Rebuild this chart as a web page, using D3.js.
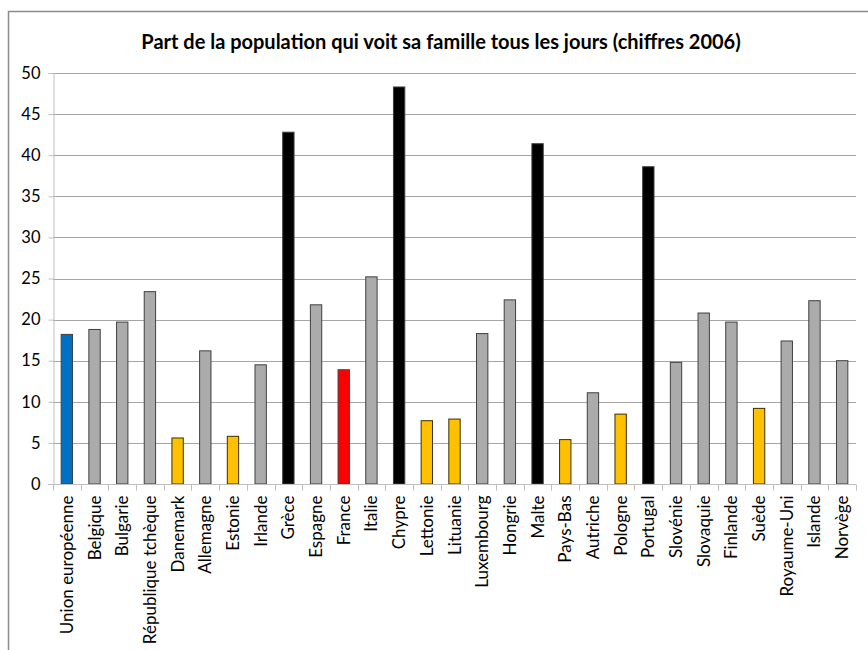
<!DOCTYPE html>
<html>
<head>
<meta charset="utf-8">
<script src="https://cdn.jsdelivr.net/npm/d3@7"></script>
<style>
  html, body { margin: 0; padding: 0; background: #fff; }
  svg { display: block; }
  text { font-family: Lato, "Open Sans", sans-serif; fill: #000; }
</style>
</head>
<body>
<svg id="chart" width="868" height="650"></svg>
<script>
// Part de la population qui voit sa famille tous les jours, 2006 (%)
const countries = [
  "Union européenne", "Belgique", "Bulgarie", "République tchèque", "Danemark",
  "Allemagne", "Estonie", "Irlande", "Grèce", "Espagne", "France", "Italie",
  "Chypre", "Lettonie", "Lituanie", "Luxembourg", "Hongrie", "Malte",
  "Pays-Bas", "Autriche", "Pologne", "Portugal", "Slovénie", "Slovaquie",
  "Finlande", "Suède", "Royaume-Uni", "Islande", "Norvège"
];
const values = [
  18.2, 18.8, 19.7, 23.4, 5.6,
  16.2, 5.8, 14.5, 42.8, 21.8, 13.9, 25.2,
  48.3, 7.7, 7.9, 18.3, 22.4, 41.4,
  5.4, 11.1, 8.5, 38.6, 14.8, 20.8,
  19.7, 9.2, 17.4, 22.3, 15.0
];
// Groupe de chaque pays : moyenne UE, France, valeurs fortes, valeurs faibles, autres
const groups = [
  "ue", "autre", "autre", "autre", "faible",
  "autre", "faible", "autre", "fort", "autre", "france", "autre",
  "fort", "faible", "faible", "autre", "autre", "fort",
  "faible", "autre", "faible", "fort", "autre", "autre",
  "autre", "faible", "autre", "autre", "autre"
];
const yTicks = [0, 5, 10, 15, 20, 25, 30, 35, 40, 45, 50];
const title = "Part de la population qui voit sa famille tous les jours (chiffres 2006)";

const fillOf = { ue: "#0070C0", autre: "#ABABAB", faible: "#FFC000", fort: "#000000", france: "#FF0000" };

const svg = d3.select("#chart");
const margin = { left: 53, right: 12, top: 73, bottom: 166 };
const W = 868, H = 650;

// Cadre du graphique
svg.append("rect")
  .attr("x", 8.5).attr("y", 11.5)
  .attr("width", W + 10).attr("height", H + 10)
  .attr("fill", "none").attr("stroke", "#8C8C8C").attr("stroke-width", 1.5);

svg.append("text")
  .attr("x", 441).attr("y", 49)
  .attr("text-anchor", "middle")
  .style("font-size", "20px").style("font-weight", "bold")
  .text(title);

const x = d3.scaleBand()
  .domain(countries)
  .range([margin.left, W - margin.right])
  .paddingInner(0.59).paddingOuter(0.295);

const y = d3.scaleLinear()
  .domain([0, 50])
  .range([H - margin.bottom, margin.top]);

// Quadrillage horizontal
svg.append("g")
  .selectAll("line")
  .data(yTicks.filter(d => d > 0))
  .join("line")
  .attr("x1", margin.left).attr("x2", W - margin.right)
  .attr("y1", d => Math.round(y(d)) + 0.5).attr("y2", d => Math.round(y(d)) + 0.5)
  .attr("stroke", "#A6A6A6").attr("stroke-width", 1);

// Axe vertical
const yAxis = svg.append("g")
  .attr("transform", `translate(${margin.left + 0.5},0)`)
  .call(d3.axisLeft(y).tickValues(yTicks).tickSize(5).tickPadding(8));
yAxis.select(".domain").attr("stroke", "#BFBFBF");
yAxis.selectAll(".tick line").attr("stroke", "#BFBFBF");
yAxis.selectAll("text").style("font-size", "16.5px").style("font-family", "Lato, sans-serif").attr("fill", "#000");

// Barres
svg.append("g")
  .selectAll("rect")
  .data(countries)
  .join("rect")
  .attr("x", d => x(d))
  .attr("width", x.bandwidth())
  .attr("y", (d, i) => y(values[i]))
  .attr("height", (d, i) => y(0) - y(values[i]))
  .attr("fill", (d, i) => fillOf[groups[i]])
  .attr("stroke", (d, i) => groups[i] === "faible" ? "#3A3000" : "#404040")
  .attr("stroke-width", 1);

// Axe horizontal avec graduations entre les catégories
const step = x.step();
const xAxis = svg.append("g").attr("transform", `translate(0,${Math.round(y(0)) + 0.5})`);
xAxis.append("line")
  .attr("x1", margin.left - 5).attr("x2", W - margin.right)
  .attr("stroke", "#BFBFBF");
const edges = d3.range(countries.length + 1).map(i => margin.left + i * step);
xAxis.selectAll("line.sep")
  .data(edges)
  .join("line").attr("class", "sep")
  .attr("x1", d => Math.round(d) + 0.5).attr("x2", d => Math.round(d) + 0.5)
  .attr("y1", 0).attr("y2", 6)
  .attr("stroke", "#BFBFBF");

xAxis.selectAll("text")
  .data(countries)
  .join("text")
  .attr("transform", d => `translate(${x(d) + x.bandwidth() / 2 + 6},11) rotate(-90)`)
  .attr("text-anchor", "end")
  .style("font-size", "17px")
  .text(d => d);
</script>
</body>
</html>
